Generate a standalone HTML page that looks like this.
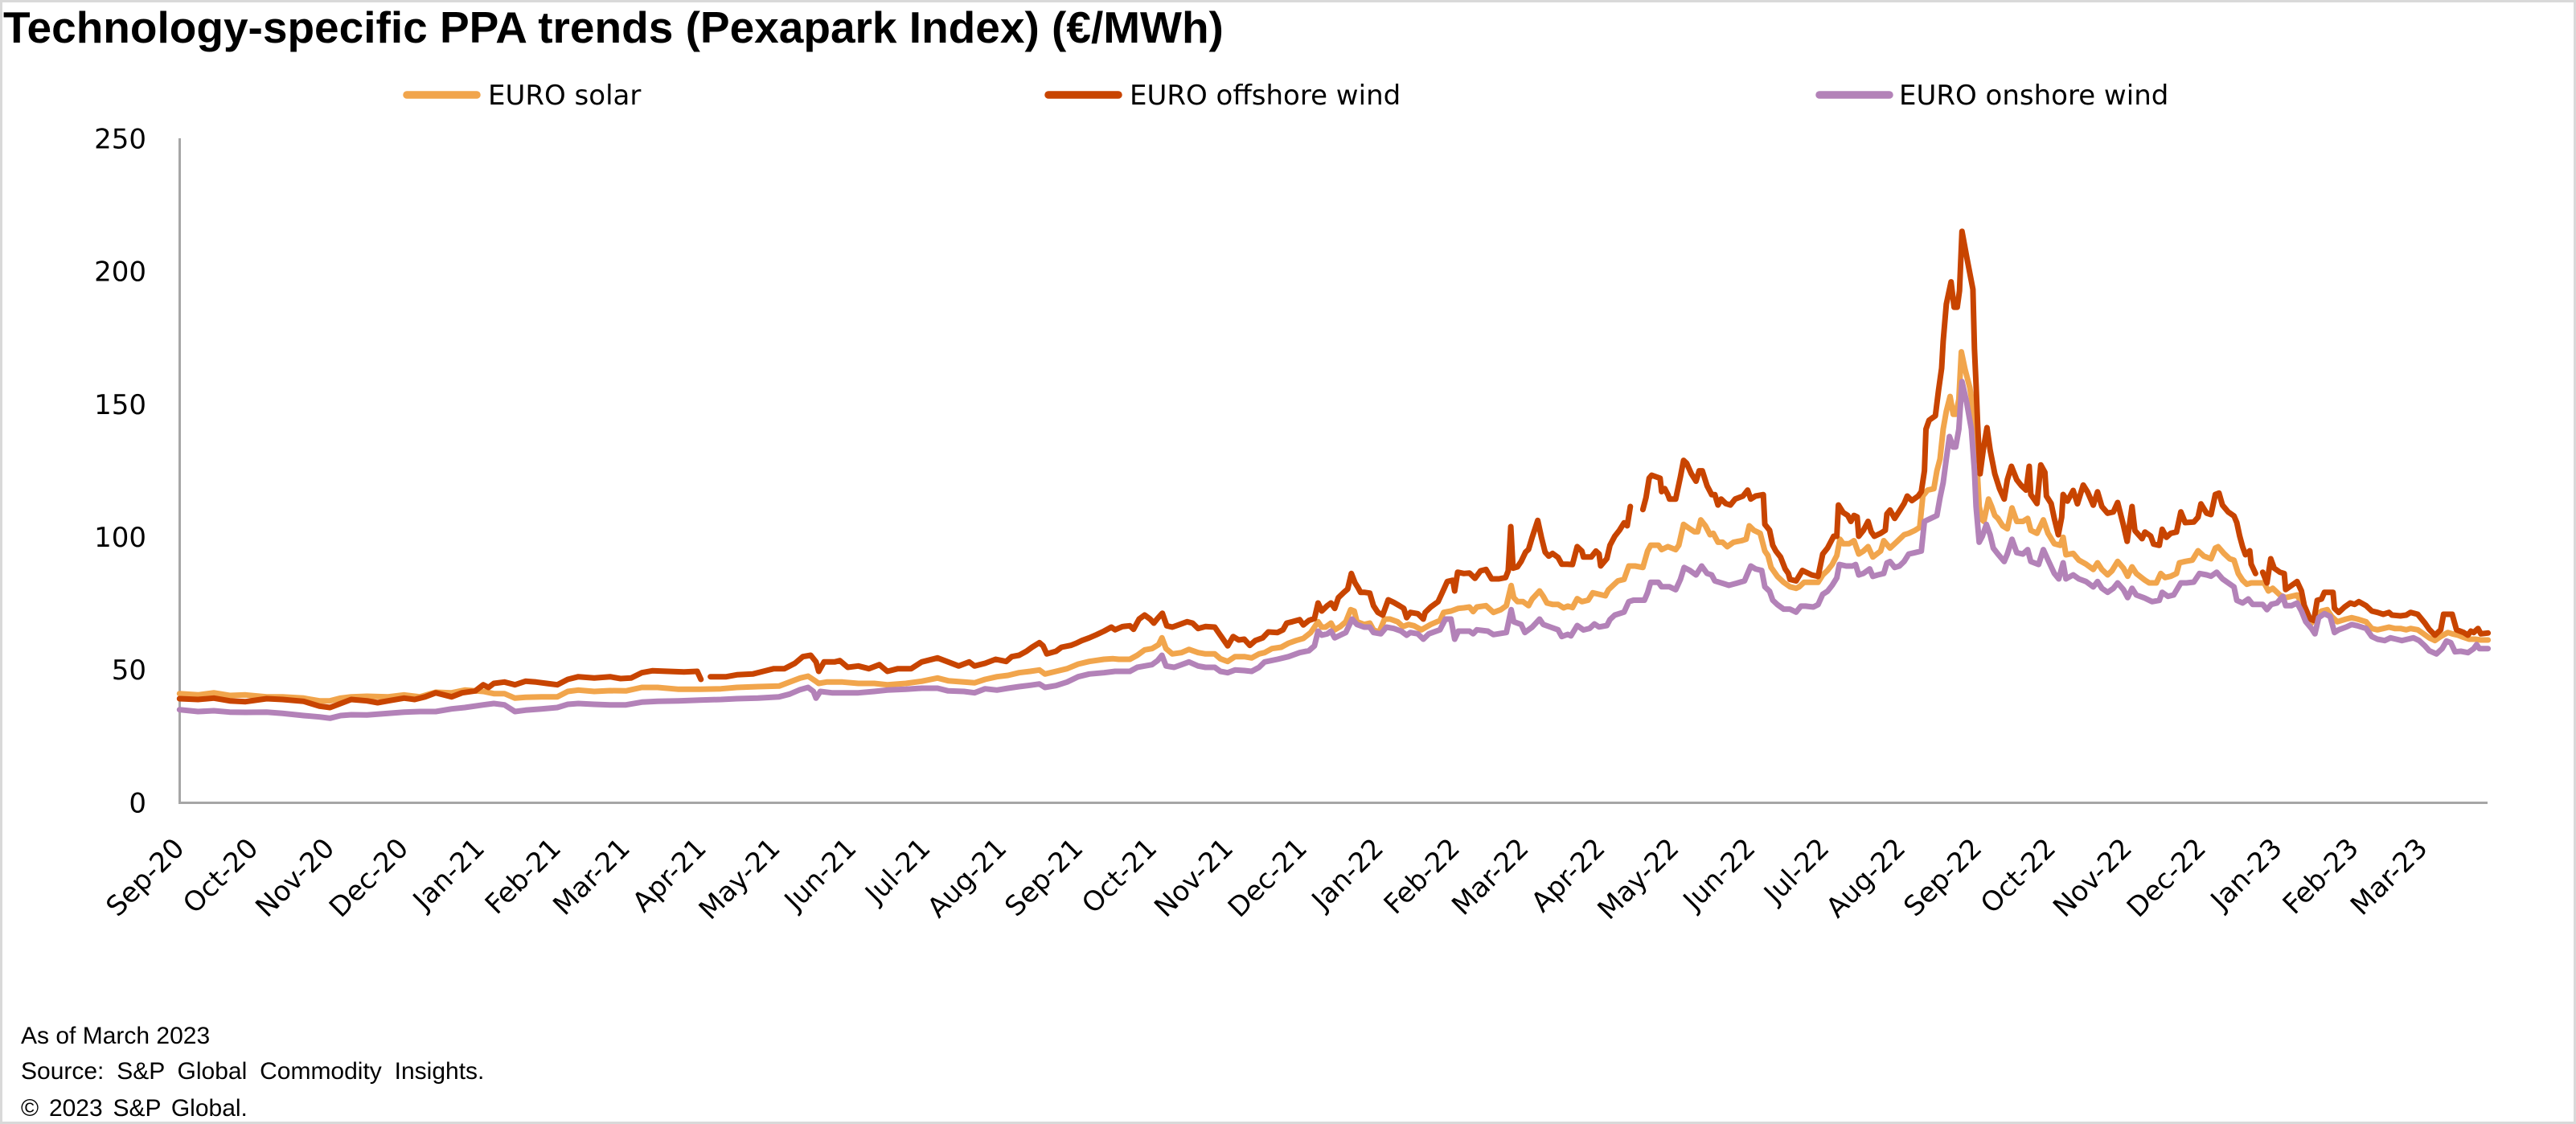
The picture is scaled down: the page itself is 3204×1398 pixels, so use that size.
<!DOCTYPE html>
<html>
<head>
<meta charset="utf-8">
<style>
html,body{margin:0;padding:0;background:#fff;}
svg{display:block;}
.t{font-family:"Liberation Sans",Arial,sans-serif;}
.d{font-family:"DejaVu Sans","Liberation Sans",sans-serif;font-size:34px;fill:#000;}
</style>
</head>
<body>
<svg width="3204" height="1398" viewBox="0 0 3204 1398" xmlns="http://www.w3.org/2000/svg">
<rect x="1.5" y="1.5" width="3201" height="1395" fill="#fff" stroke="#d9d9d9" stroke-width="3"/>
<text class="t" x="4" y="53" font-size="55" font-weight="bold" fill="#000">Technology-specific PPA trends (Pexapark Index) (€/MWh)</text>

<!-- legend -->
<g stroke-width="9.5" stroke-linecap="round">
<line x1="506" y1="118" x2="593" y2="118" stroke="#F1A54C"/>
<line x1="1304" y1="118" x2="1391" y2="118" stroke="#C84400"/>
<line x1="2263" y1="118" x2="2350" y2="118" stroke="#B382B8"/>
</g>
<text class="d" x="607" y="130">EURO solar</text>
<text class="d" x="1405" y="130">EURO offshore wind</text>
<text class="d" x="2362" y="130">EURO onshore wind</text>

<!-- y tick labels -->
<g class="d" text-anchor="end">
<text x="182" y="184.4">250</text>
<text x="182" y="349.6">200</text>
<text x="182" y="514.8">150</text>
<text x="182" y="680">100</text>
<text x="182" y="845.2">50</text>
<text x="182" y="1010.4">0</text>
</g>

<!-- axes -->
<line x1="223.5" y1="172" x2="223.5" y2="1000" stroke="#a6a6a6" stroke-width="3"/>
<line x1="222" y1="998.5" x2="3094" y2="998.5" stroke="#a6a6a6" stroke-width="3"/>

<!-- x labels -->
<g class="d" text-anchor="end">
<text transform="translate(231,1057) rotate(-45)">Sep-20</text>
<text transform="translate(322.9,1057) rotate(-45)">Oct-20</text>
<text transform="translate(417.8,1057) rotate(-45)">Nov-20</text>
<text transform="translate(509.7,1057) rotate(-45)">Dec-20</text>
<text transform="translate(604.6,1057) rotate(-45)">Jan-21</text>
<text transform="translate(699.6,1057) rotate(-45)">Feb-21</text>
<text transform="translate(785.4,1057) rotate(-45)">Mar-21</text>
<text transform="translate(880.3,1057) rotate(-45)">Apr-21</text>
<text transform="translate(972.2,1057) rotate(-45)">May-21</text>
<text transform="translate(1067.1,1057) rotate(-45)">Jun-21</text>
<text transform="translate(1159,1057) rotate(-45)">Jul-21</text>
<text transform="translate(1253.9,1057) rotate(-45)">Aug-21</text>
<text transform="translate(1348.9,1057) rotate(-45)">Sep-21</text>
<text transform="translate(1440.8,1057) rotate(-45)">Oct-21</text>
<text transform="translate(1535.7,1057) rotate(-45)">Nov-21</text>
<text transform="translate(1627.6,1057) rotate(-45)">Dec-21</text>
<text transform="translate(1722.5,1057) rotate(-45)">Jan-22</text>
<text transform="translate(1817.5,1057) rotate(-45)">Feb-22</text>
<text transform="translate(1903.2,1057) rotate(-45)">Mar-22</text>
<text transform="translate(1998.2,1057) rotate(-45)">Apr-22</text>
<text transform="translate(2090.1,1057) rotate(-45)">May-22</text>
<text transform="translate(2185,1057) rotate(-45)">Jun-22</text>
<text transform="translate(2276.9,1057) rotate(-45)">Jul-22</text>
<text transform="translate(2371.8,1057) rotate(-45)">Aug-22</text>
<text transform="translate(2466.8,1057) rotate(-45)">Sep-22</text>
<text transform="translate(2558.7,1057) rotate(-45)">Oct-22</text>
<text transform="translate(2653.6,1057) rotate(-45)">Nov-22</text>
<text transform="translate(2745.5,1057) rotate(-45)">Dec-22</text>
<text transform="translate(2840.4,1057) rotate(-45)">Jan-23</text>
<text transform="translate(2935.4,1057) rotate(-45)">Feb-23</text>
<text transform="translate(3021,1057) rotate(-45)">Mar-23</text>
</g>

<g fill="none" stroke-width="7" stroke-linejoin="round" stroke-linecap="round">
<!-- solar -->
<polyline stroke="#F1A54C" points="223.3,862.7 246.3,864.3 266,861.7 285.7,865 305.4,864.3 331.7,866.7 351.4,866.7 377.7,868.3 397.4,871.7 410.5,871.7 423.7,868.3 436.8,866.7 456.5,866 482.8,866.7 502.5,864.3 522.2,866.7 542,861 561.7,861.7 578.1,858.3 591.2,859.3 601.1,860 614.2,862.7 627.4,862.7 640.5,868.3 653.6,867.3 673.4,866.7 693.1,866.7 706.2,860 719.3,858.3 739.1,860 758.8,859 778.5,859.3 798.2,855 817.9,855 844.2,857.3 870.4,857.3 896.7,856.7 916.5,855 942.7,854 969,853.3 982.1,848.3 995.3,843.3 1005.1,841 1013.7,846.7 1018.3,850 1028.1,848.3 1047.8,848.3 1067.6,850 1087.3,850 1103.7,851.7 1126.7,850 1146.4,847.3 1166.1,843.3 1179.3,846.7 1199,848.3 1212.1,849.3 1225.2,845 1240,841.7 1253.8,840 1267.5,836.7 1281.3,835 1292.8,833.3 1299.7,838.3 1313.5,835 1327.2,831.7 1341,826 1354.8,822.7 1373.1,820 1384.6,819.3 1391.5,820 1405.3,820 1414.5,815 1423.7,808.3 1432.8,806.7 1441.1,801.7 1445.2,793.3 1450.3,806.7 1458.1,813.3 1469.6,811.7 1478.8,807.7 1490.2,811.7 1499.4,813.3 1510.9,813.3 1517.8,819.3 1527,822.7 1536.1,816.7 1547.6,816.7 1556.8,818.3 1566,813.3 1572.9,811.7 1582.1,806.7 1593.5,805 1602.7,800 1611.9,796.7 1621.1,794 1630.3,786.7 1639.4,773.3 1644,780 1648.6,780 1655.5,775 1660.1,783.3 1667,779.3 1673.9,773.3 1679.9,758.3 1684.4,760 1687.7,773.3 1696.8,776.7 1703.7,775 1708.3,783.3 1715.2,786.7 1722.1,770 1729,770 1738.2,773.3 1745,779.3 1751.9,776.7 1758.8,778.3 1768,783.3 1779.5,776.7 1791,771.7 1795.6,761.7 1804.7,760 1813.9,756.7 1820.8,756 1827.7,755 1832.3,760.7 1836.9,755 1848.3,753.3 1857.5,761.7 1866.7,758.3 1873.6,753.3 1879.6,728.3 1882.8,743.3 1887.4,748.3 1894.3,748.3 1901.2,753.3 1905.7,745 1914.9,735 1919.5,741.7 1924.1,750 1931,751.7 1937.9,751.7 1944.8,756 1950,753.9 1955.8,755.7 1961.7,744.6 1967.5,748.3 1975.3,746.5 1981.1,737.3 1988.9,739.1 1996.7,741 2000.6,733.5 2006.4,728 2012.3,722.5 2020,720.6 2025.9,704 2033.7,704 2043.4,705.8 2049.2,685.4 2053.1,678.1 2062.8,678.1 2066.7,683.6 2074.5,679.9 2084.2,683.6 2088.1,678.1 2094,652.2 2101.8,657.7 2107.6,661.4 2111.5,661.4 2115.4,646.6 2121.2,654 2127,665.1 2130.9,663.3 2136.8,674.4 2142.6,674.4 2148.4,679.9 2156.2,674.4 2166,672.5 2171.8,670.7 2175.7,654 2181.5,659.6 2189.3,663.3 2195.1,685.4 2199,691 2202.9,705.8 2210.7,716.9 2218.5,724.3 2226.3,729.8 2234,731.7 2237.9,729.8 2243.8,724.3 2253.5,724.3 2261.3,724.3 2267.1,715.1 2273,709.5 2278.8,702.1 2284.6,691 2288.5,670.7 2292.4,676.2 2300.2,676.2 2306,672.5 2311.9,689.1 2317.7,685.4 2323.5,679.9 2329.4,692.8 2339.1,685.4 2343,672.5 2350.8,681.7 2358.6,674.4 2362.5,670.7 2368.3,665.1 2374.1,663.3 2381.9,659.6 2387.7,655.9 2391.6,617 2397.5,609.6 2405.3,607.8 2409.1,585.6 2413,570.8 2416.9,533.8 2420.8,511.6 2425.5,493.1 2429.4,515.3 2432.5,515.3 2436.4,496.8 2439.5,437.6 2444.2,459.8 2450,482 2455.8,519 2459.7,593 2461.7,630 2465.6,646.6 2467.5,648.5 2473.3,620.7 2477.2,630 2481.1,641.1 2485,644.8 2490.9,654 2496.7,657.7 2502.5,631.8 2508.4,648.5 2516.1,648.5 2522,644.8 2525.9,659.6 2533.6,663.3 2541.5,646.6 2547.3,663.3 2555.1,676.2 2562.5,678.3 2566.1,668.3 2569.6,690 2578.6,688.3 2585.7,696.7 2594.6,701.7 2603.6,708.3 2608.9,700 2614.3,708.3 2621.4,715 2626.8,710 2633.9,698.3 2641.1,706.7 2646.4,716.7 2651.8,705 2657.1,713.3 2667.9,721.7 2673.2,725 2682.1,725 2687.5,713.3 2692.9,718.3 2700,716.7 2707.1,713.3 2710.7,700 2717.9,698.3 2726.8,696.7 2733.9,685 2741.1,691.7 2750,695 2755.4,681.7 2758.9,680 2766.1,688.3 2773.2,695 2778.6,696.7 2783.9,713.3 2789.3,721.7 2794.6,726.7 2800,725 2807.1,725 2816.1,725 2821.4,735 2826.8,731.7 2835.7,740 2842.9,743.3 2850,741.7 2857.1,740 2862.5,750 2867.9,765 2875,775 2880.4,766.7 2887.5,760 2894.6,758.3 2900,766.7 2907.1,773.3 2917.9,770 2925,768.3 2932.1,770 2942.9,773.3 2950,781.7 2957.1,783.3 2964.3,781.7 2971.4,780 2978.6,781.7 2985.7,781.7 2992.9,783.3 2998.2,781.7 3007.1,783.3 3014.3,788.3 3021.4,793.3 3028.6,796.7 3035.7,791.7 3044.6,786.7 3050,788.3 3057.1,790 3064.3,792.7 3071.4,795 3078.6,795 3085.7,796 3094.6,796"/>
<!-- offshore -->
<polyline stroke="#C84400" points="223.3,869 246.3,870 266,868.3 285.7,871.7 305.4,872.7 331.7,869 351.4,870 377.7,872.3 397.4,878.3 410.5,880 423.7,875 436.8,870 456.5,871.7 469.7,874 482.8,871.7 502.5,868.3 515.7,870 528.8,866.7 542,861.7 561.7,866.7 574.8,861.7 591.2,859.3 601.1,851.7 607.6,855 614.2,850 627.4,848.3 640.5,851.7 653.6,847.3 666.8,848.3 679.9,850 693.1,851.7 706.2,845 719.3,841.7 739.1,843.3 758.8,841.7 771.9,844 785,843.3 798.2,836.7 811.3,834.3 831,835 850.7,835.7 867.2,835 871.8,845"/>
<polyline stroke="#C84400" points="883.6,841.7 903.3,841.7 916.5,839.3 936.2,838.3 949.3,835 962.5,831.7 975.6,831.7 988.7,825 998.6,816.7 1008.4,815 1015,823.3 1018.3,835 1024.9,823.3 1038,823.3 1044.6,821.7 1054.4,830 1067.6,828.3 1080.7,831.7 1093.8,826.7 1103.7,835 1116.8,831.7 1133.3,831.7 1146.4,823.3 1166.1,818.3 1179.3,823.3 1192.4,828.3 1205.5,823.3 1212.1,828.3 1225.2,825 1238.4,820 1251.5,822.7 1258.4,816.7 1267.5,815 1276.7,810 1283.6,805 1292.8,799.3 1297.4,803.3 1302,813.3 1313.5,810 1320.3,805 1331.8,802.7 1338.7,800 1345.6,796.7 1354.8,793.3 1364,789.3 1373.1,785 1382.3,780 1386.9,783.3 1396.1,779.3 1405.3,778.3 1409.9,782.7 1416.8,770 1423.7,765 1430.5,770 1435.1,775 1439.7,769.3 1445.7,762.7 1451.2,778.3 1458.1,780 1467.3,776.7 1476.5,773.3 1483.3,775 1490.2,781.7 1499.4,779.3 1510.9,780 1515.5,786.7 1520.1,793.3 1527,803.3 1533.8,791.7 1540.7,796 1547.6,795 1554.5,802.7 1561.4,796.7 1570.6,793.3 1577.5,786 1588.9,786.7 1595.8,783.3 1600.4,775 1607.3,773.3 1616.5,770.7 1621.1,777.3 1628,771.7 1634.9,769.3 1639.4,750 1644,760 1650.9,753.3 1655.5,750 1660.1,756.7 1664.7,743.3 1671.6,736.7 1676.2,732.7 1680.8,713.3 1685.4,725 1689,730.7 1692.2,736.7 1696.8,736.7 1703.7,737.7 1708.3,753.3 1713.8,761.7 1719.8,765 1726.7,746 1733.6,749.3 1740.5,753.3 1746,756.7 1749.6,768.3 1754.2,761.7 1763.4,763.3 1770.3,770 1772.6,761.7 1779.5,755 1788.7,748.3 1795.6,733.3 1800.1,723.3 1807,721.7 1809.3,735 1813,711.7 1820.8,713.3 1827.7,712.7 1834.6,719.3 1841.5,710 1848.3,708.3 1855.3,720 1864.4,720 1872.7,718.3 1875.9,710 1879.1,655 1881.9,706.7 1887.4,705 1892,698.3 1897.5,686.7 1901.2,683.3 1905.7,668.3 1912.6,647.3 1917.2,668.3 1921.8,686.7 1926.4,691.7 1931,688.3 1937.9,693.3 1942.5,701.7 1949.4,701.7 1955.8,702.1 1961.7,679.9 1967.5,685.4 1969.5,692.8 1979.2,692.8 1985,685.4 1988.9,689.1 1990.9,703.9 1998.6,694.7 2002.5,678.1 2008.4,667 2014.2,659.6 2020,650.3 2023.9,654 2027.8,630"/>
<polyline stroke="#C84400" points="2043.4,633.7 2047.3,618.9 2051.2,594.8 2054.3,591.1 2064.8,594.8 2066.7,611.5 2070.6,607.8 2074.5,615.2 2076.5,620.7 2084.2,620.7 2090.1,593 2094,572.6 2097.9,576.3 2103.7,589.3 2109.5,598.5 2113.4,585.6 2117.3,585.6 2123.2,604.1 2129,615.2 2132.9,615.2 2136.8,628.1 2140.7,620.7 2146.5,626.3 2152.3,628.1 2158.2,620.7 2167.9,617 2173.7,609.6 2177.6,620.7 2183.5,617 2193.2,615.2 2195.1,652.2 2201,659.6 2204.9,678.1 2208.8,685.4 2214.6,692.8 2220.4,707.6 2224.3,713.2 2226.3,720.6 2234,722.5 2241.8,709.5 2253.5,715.1 2261.3,716.9 2267.1,689.1 2273,681.7 2280.7,667 2284.6,667 2286.6,628.1 2292.4,637.4 2298.2,641.1 2302.1,648.5 2306,641.1 2309.9,642.9 2311.9,667 2317.7,659.6 2323.5,648.5 2327.4,661.4 2331.3,667 2339.1,663.3 2344.9,659.6 2346.9,639.2 2350.8,634.4 2356.6,644.8 2362.5,635.5 2368.3,626.3 2372.2,617 2378,622.6 2385.8,617 2389.7,611.5 2393.6,585.6 2395.5,533.8 2399.4,522.7 2407.2,517.1 2411.1,485.7 2415,457.9 2416.9,424.6 2420.8,378.4 2426.7,350.6 2430.5,382.1 2434.4,382.1 2437.2,361.7 2440.3,287.7 2446.1,319.2 2453.9,359.9 2455.8,433.9 2457.8,478.3 2459.7,526.4 2462.8,589.3 2466.7,559.7 2471.4,531.9 2475.3,559.7 2481.1,589.3 2487,607.8 2492.8,620.7 2496.7,596.7 2501.8,580 2508.4,596.7 2514.2,604.1 2520,609.6 2523.9,580 2525.9,615.2 2529.8,620.7 2533.6,626.3 2538.3,578.2 2543.4,587.4 2545.3,617 2551.2,626.3 2555.1,644.8 2560.1,665.1 2564.3,643.3 2566.1,615 2571.4,623.3 2578.6,610 2583.9,626.7 2591.1,603.3 2596.4,611.7 2603.6,628.3 2608.9,611.7 2614.3,630 2621.4,638.3 2628.6,636.7 2633.9,625 2641.1,653.3 2645.7,673.3 2651.8,630 2655.4,660 2664.3,670 2667.9,661.7 2675,666.7 2678.6,676.7 2685.7,678.3 2689.3,658.3 2694.6,668.3 2700,663.3 2707.1,661.7 2712.5,636.7 2717.9,650 2728.6,649.3 2733.9,643.3 2737.5,626.7 2744.6,638.3 2750,640 2755.4,615 2760,613.3 2764.3,628.3 2771.4,636.7 2778.6,641.7 2782.1,650 2785.7,666.7 2789.3,680 2792.9,690 2798.2,685 2800,701.7 2805.4,713.3"/>
<polyline stroke="#C84400" points="2814.3,711.7 2819.6,725 2824.3,695 2828.6,706.7 2835.7,711.7 2841.1,713.3 2842.9,733.3 2850,728.3 2857.1,723.3 2862.5,735 2866.1,753.3 2873.2,770 2877.9,771.7 2882.1,746.7 2887.5,745 2891.1,736.7 2901.8,736.7 2903.6,756.7 2908.9,761.7 2916.1,755 2923.2,750 2928.6,751.7 2933.9,748.3 2942.9,753.3 2950,760 2957.1,761.7 2964.3,764 2971.4,761.7 2975,765 2985.7,766 2992.9,765 2998.2,761.7 3007.1,764 3016.1,775 3021.4,782.7 3028.6,790 3035.7,783.3 3039.3,764 3050,764 3055.4,783.3 3064.3,786.7 3069.6,790 3073.2,785 3076.8,786.7 3082.1,781.7 3085.7,788.3 3094.6,787.3"/>
<!-- onshore -->
<polyline stroke="#B382B8" points="223.3,882.7 246.3,885 266,884 285.7,885.7 305.4,886 331.7,885.7 351.4,887.3 377.7,890 397.4,891.7 410.5,893.3 423.7,890 436.8,889 456.5,889.3 482.8,887.3 502.5,885.7 522.2,885 542,885 561.7,881.7 578.1,880 601.1,876.7 614.2,875 627.4,876.7 640.5,885 653.6,883.3 673.4,881.7 693.1,880 706.2,876 719.3,875 739.1,876 758.8,876.7 778.5,876.7 798.2,873.3 817.9,872.3 844.2,871.7 870.4,870.7 896.7,870 916.5,869 942.7,868.3 969,866.7 982.1,863.3 995.3,857.7 1005.1,855 1011.7,860 1015,868.3 1020.3,860 1034.7,861.7 1047.8,861.7 1067.6,861.7 1087.3,860 1103.7,858.3 1126.7,857.3 1146.4,856 1166.1,856 1179.3,859.3 1199,860 1212.1,861.7 1225.2,856.7 1240,858.3 1253.8,856 1267.5,854 1281.3,852.3 1292.8,850.7 1299.7,855 1313.5,852.7 1327.2,848.3 1341,841.7 1354.8,838.3 1373.1,836.7 1386.9,835 1405.3,835 1414.5,830 1423.7,828.3 1432.8,826.7 1439.7,821.7 1445.2,815 1450.3,828.3 1460.4,830 1469.6,826.7 1478.8,823.3 1490.2,828.3 1499.4,830 1510.9,830 1517.8,835 1527,836.7 1536.1,833.3 1547.6,834 1556.8,835 1566,830 1572.9,823.3 1588.9,820 1602.7,816.7 1616.5,811.7 1628,809.3 1634.9,803.3 1639.4,785 1644,790 1650.9,788.3 1655.5,785 1660.1,793.3 1667,790 1673.9,786.7 1681.7,770 1687.7,776.7 1696.8,780 1703.7,780 1708.3,786.7 1717.5,788.3 1724.4,780 1733.6,781.7 1742.8,785 1749.6,790 1754.2,786.7 1763.4,788.3 1770.3,795 1777.2,788.3 1791,783.3 1797.8,770 1804.7,770 1809.3,795 1813.9,785 1827.7,785 1832.3,788.3 1836.9,783.3 1850.6,785 1857.5,789.3 1873.6,786.7 1879.6,758.3 1882.8,773.3 1892,776.7 1896.6,786.7 1905.7,780 1914.9,770 1919.5,776.7 1928.7,780 1937.9,783.3 1942.5,791.7 1950,789 1953.9,790.9 1961.7,778 1969.5,783.5 1977.2,781.6 1983.1,776.1 1988.9,779.8 1998.6,778 2002.5,770.5 2008.4,765 2020,761.3 2025.9,748.3 2031.7,746.5 2045.3,746.5 2049.2,737.3 2053.1,724.3 2062.8,724.3 2066.7,729.8 2076.5,729.8 2084.2,733.5 2090.1,720.6 2094.7,705.8 2101.8,709.5 2109.5,715.1 2116.5,704 2123.2,713.2 2129,715.1 2132.9,722.5 2138.7,724.3 2144.6,726.1 2150.4,728 2160.1,725.4 2169.8,722.5 2177.6,704 2183.5,707.6 2191.2,709.5 2195.1,729.8 2201,735.4 2204.9,746.5 2210.7,752 2218.5,757.6 2226.3,757.6 2234,761.3 2239.9,753.9 2245.7,753.9 2255.4,755 2261.3,752 2267.1,739.1 2273,735.4 2278.8,728 2284.6,718.7 2287.7,702.1 2296.3,704 2304.1,704 2308,702.1 2311.9,715.1 2317.7,713.2 2325.5,707.6 2329.4,716.9 2335.2,715.1 2343,713.2 2346.9,700.2 2350.8,698.4 2356.6,705.8 2362.5,704 2368.3,698.4 2374.1,689.1 2381.9,687.3 2389.7,685.4 2393.6,648.5 2401.4,644.8 2409.1,641.1 2413,618.9 2416.9,600.4 2420.8,570.8 2424.7,543 2429.4,556 2432.5,556 2436.4,533.8 2440.3,474.6 2446.1,500.5 2452,533.8 2455.8,585.6 2457.8,630 2461.7,674.4 2465.6,667 2470.6,652.2 2475.3,665.1 2479.2,681.7 2485,689.1 2492.8,698.4 2496.7,689.1 2502.5,670.7 2508.4,687.3 2516.1,689.1 2522,683.6 2525.9,698.4 2535.6,702.1 2541.5,683.6 2547.3,696.5 2555.1,713.2 2560.7,720 2566.1,700 2569.6,720 2578.6,715 2585.7,720 2594.6,723.3 2603.6,730 2608.9,723.3 2614.3,731.7 2621.4,736.7 2628.6,731.7 2633.9,725 2641.1,733.3 2646.4,743.3 2651.8,731.7 2657.1,740 2667.9,744 2676.8,748.3 2685.7,746.7 2689.3,736.7 2696.4,741.7 2703.6,740 2712.5,725 2719.6,725 2728.6,724 2735.7,713.3 2744.6,715 2750,716.7 2757.1,711.7 2764.3,720 2771.4,725 2778.6,730 2782.1,746.7 2789.3,750 2796.4,745 2801.8,751.7 2814.3,751.7 2819.6,758.3 2825,751.7 2832.1,750 2839.3,741.7 2842.9,753.3 2850,753.3 2857.1,750 2862.5,760 2867.9,773.3 2875,781.7 2879.3,788.3 2883.9,768.3 2891.1,763.3 2898.2,766.7 2903.6,786.7 2908.9,783.3 2917.9,780 2925,776.7 2932.1,778.3 2942.9,781.7 2950,791.7 2957.1,795 2966.1,796.7 2973.2,793.3 2980.4,795 2987.5,796.7 2994.6,795 3001.8,793.3 3008.9,796.7 3016.1,803.3 3021.4,809.3 3030.4,813.3 3037.5,806.7 3042.9,797.3 3048.2,799.3 3053.6,810.7 3060.7,810 3069.6,811.7 3076.8,806.7 3080.4,801.7 3083.9,806.7 3094.6,806.7"/>
</g>

<!-- footnotes -->
<g class="t" font-size="30" fill="#000">
<text x="26" y="1298">As of March 2023</text>
<text x="26" y="1342" word-spacing="7.5">Source: S&amp;P Global Commodity Insights.</text>
<text x="26" y="1388" word-spacing="4.5">© 2023 S&amp;P Global.</text>
</g>
</svg>
</body>
</html>
